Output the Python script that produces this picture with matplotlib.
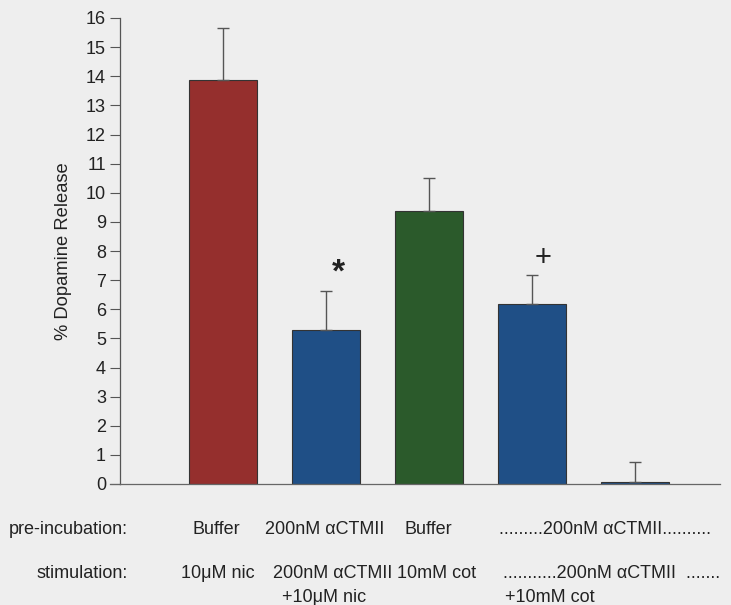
import matplotlib
matplotlib.use("Agg")
import matplotlib.pyplot as plt

plt.rcParams['font.family'] = ['Liberation Sans', 'DejaVu Sans']

# ---- data ----
positions = [1, 2, 3, 4, 5]
values = [13.87, 5.28, 9.39, 6.17, 0.07]
errors = [1.79, 1.33, 1.13, 1.02, 0.68]
colors = ['#952f2d', '#1f4f86', '#2b5a2b', '#1f4f86', '#1f4f86']
markers = ['', '*', '', '+', '']

row_names = ['pre-incubation:', 'stimulation:']
pre_labels = ['Buffer', '200nM \u03b1CTMII', 'Buffer', '.........200nM \u03b1CTMII..........']
stim_labels = ['10\u03bcM nic', '200nM \u03b1CTMII', '10mM cot', '...........200nM \u03b1CTMII  .......']
stim_labels2 = ['+10\u03bcM nic', '+10mM cot']
yticks = list(range(0, 17))

W, H = 731, 605
fig = plt.figure(figsize=(W / 100, H / 100), dpi=100)
bg = '#eeeeee'
fig.patch.set_facecolor(bg)

ax = fig.add_axes([120 / W, 1 - 484 / H, (720 - 120) / W, (484 - 18) / H])
ax.set_facecolor(bg)

ax.bar(positions, values, width=0.66, color=colors, edgecolor='#333333', linewidth=0.8, zorder=2)
for x, v, e in zip(positions, values, errors):
    ax.errorbar([x], [v], yerr=[[0], [e]], fmt='none', ecolor='#555555', elinewidth=1.0,
                capsize=4, capthick=1.0, zorder=3)

for x, v, e, m in zip(positions, values, errors, markers):
    if m == '*':
        ax.text(x + 0.12, v + e + 0.1, m, ha='center', va='bottom', fontsize=24,
                fontweight='bold', color='#222222')
    elif m == '+':
        ax.text(x + 0.1, v + e + 0.1, m, ha='center', va='bottom', fontsize=21, color='#222222')

ax.set_xlim(0, 5.82)
ax.set_ylim(0, 16)
ax.set_yticks(yticks)
ax.set_yticklabels([str(t) for t in yticks], fontsize=13, color='#222222')
ax.tick_params(axis='y', direction='out', length=7, width=0.8, color='#555555', pad=3)
ax.set_xticks([])
for s in ['top', 'right']:
    ax.spines[s].set_visible(False)
ax.spines['left'].set_color('#555555')
ax.spines['bottom'].set_color('#666666')
ax.spines['left'].set_linewidth(0.9)
ax.spines['bottom'].set_linewidth(0.9)
# baseline extends slightly left of the y-axis
ax.plot([-0.1, 0], [0, 0], color='#666666', lw=0.9, clip_on=False)

tc = '#222222'
fig.text(63 / W, 1 - 251 / H, '% Dopamine Release', rotation=90, ha='center', va='center',
         fontsize=13.2, color=tc)

fs = 13
fig.text(128 / W, 1 - 530 / H, row_names[0], ha='right', va='center', fontsize=fs, color=tc)
fig.text(128 / W, 1 - 573 / H, row_names[1], ha='right', va='center', fontsize=fs, color=tc)

pre_x = [192, 265, 405]
for x, t in zip(pre_x, pre_labels[:3]):
    fig.text(x / W, 1 - 529 / H, t, ha='left', va='center', fontsize=fs, color=tc)
fig.text(605 / W, 1 - 529 / H, pre_labels[3], ha='center', va='center', fontsize=fs, color=tc)
stim_x = [181, 273, 397, 503]
for x, t in zip(stim_x, stim_labels):
    fig.text(x / W, 1 - 573 / H, t, ha='left', va='center', fontsize=fs, color=tc)
stim2_x = [282, 505]
for x, t in zip(stim2_x, stim_labels2):
    fig.text(x / W, 1 - 597 / H, t, ha='left', va='center', fontsize=fs, color=tc)

fig.savefig('out.png', dpi=100, facecolor=bg)
